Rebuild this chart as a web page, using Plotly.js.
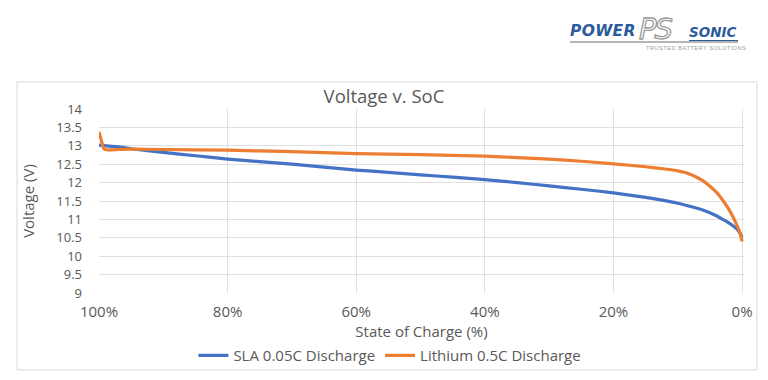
<!DOCTYPE html>
<html>
<head>
<meta charset="utf-8">
<script src="https://cdn.plot.ly/plotly-3.0.1.min.js"></script>
<style>
html,body{margin:0;padding:0;background:#fff;}
#wrap{position:relative;width:768px;height:380px;}
#chart{width:768px;height:380px;}
.logo{position:absolute;font-family:"DejaVu Sans",sans-serif;font-style:italic;white-space:nowrap;line-height:1;}
#lg1{left:570px;top:24px;font-size:15.5px;font-weight:bold;color:#2a5b9c;letter-spacing:0.3px;}
#lg2{left:639px;top:15px;font-size:29px;color:#ffffff;-webkit-text-stroke:1.3px #9a9a9a;letter-spacing:-2px;}
#lg3{left:689px;top:26px;font-size:13.5px;font-weight:bold;color:#2a5b9c;}
#lg4{left:646px;top:46px;font-size:5.5px;font-style:normal;font-family:"Liberation Sans",sans-serif;color:#9a9a9a;letter-spacing:0.6px;}
#lgbar{position:absolute;left:570px;top:41px;width:168px;height:2px;background:#b5b5b5;}
#lgbar2{position:absolute;left:689px;top:40px;width:49px;height:1px;background:#2a5b9c;}
</style>
</head>
<body>
<div id="wrap">
<div id="chart"></div>
<div id="lgbar"></div>
<div id="lgbar2"></div>
<div class="logo" id="lg1">POWER</div>
<div class="logo" id="lg2">PS</div>
<div class="logo" id="lg3">SONIC</div>
<div class="logo" id="lg4">TRUSTED BATTERY SOLUTIONS</div>
</div>
<script>
// State of charge (%) and voltages
var slaSoc = [100, 97, 95, 90, 85, 80, 75, 70, 65, 60, 55, 50, 45, 40, 35, 30, 25, 20, 15, 12, 10, 8, 6, 4, 3, 2, 1, 0.5, 0];
var slaVolt = [13.02, 12.97, 12.92, 12.82, 12.73, 12.64, 12.57, 12.50, 12.42, 12.34, 12.28, 12.21, 12.15, 12.08, 12.00, 11.91, 11.82, 11.72, 11.60, 11.51, 11.44, 11.35, 11.25, 11.10, 11.00, 10.90, 10.77, 10.67, 10.52];

var liSoc = [100, 99.6, 99.2, 98.5, 97, 95, 90, 80, 70, 60, 50, 40, 35, 30, 25, 20, 15, 12, 10, 9, 8, 7, 6, 5, 4, 3, 2, 1.5, 1, 0.5, 0.2, 0];
var liVolt = [13.38, 13.12, 12.91, 12.89, 12.90, 12.91, 12.90, 12.88, 12.84, 12.79, 12.76, 12.72, 12.68, 12.64, 12.58, 12.51, 12.43, 12.37, 12.32, 12.28, 12.22, 12.14, 12.04, 11.90, 11.74, 11.52, 11.26, 11.10, 10.92, 10.72, 10.56, 10.40];

var seriesNames = ["SLA 0.05C Discharge", "Lithium 0.5C Discharge"];
var xTicks = [100, 80, 60, 40, 20, 0];
var xTickText = ["100%", "80%", "60%", "40%", "20%", "0%"];

var grey = "#595959";
var font = "Open Sans, Liberation Sans, sans-serif";

var traces = [
  {x: slaSoc, y: slaVolt, name: seriesNames[0], type: "scatter", mode: "lines",
   line: {color: "#4472C4", width: 3.2, shape: "spline", smoothing: 0.5}},
  {x: liSoc, y: liVolt, name: seriesNames[1], type: "scatter", mode: "lines",
   line: {color: "#ED7D31", width: 3.2, shape: "spline", smoothing: 0.5}}
];

var layout = {
  width: 768, height: 380,
  margin: {l: 99, r: 24, t: 109, b: 87, autoexpand: false},
  paper_bgcolor: "rgba(0,0,0,0)",
  plot_bgcolor: "#ffffff",
  font: {family: font, color: grey, size: 15},
  showlegend: true,
  title: {text: "Voltage v. SoC", x: 0.5, xanchor: "center", y: 0.745, yanchor: "middle",
          font: {family: font, size: 18.5, color: grey}},
  xaxis: {
    range: [100, -0.3], tickvals: xTicks, ticktext: xTickText,
    showgrid: true, gridcolor: "#e0e0e0", gridwidth: 1,
    zeroline: false, showline: false, ticks: "",
    ticklabelstandoff: 8,
    tickfont: {size: 15, color: grey},
    title: {text: "State of Charge (%)", font: {size: 15, color: grey}, standoff: 2}
  },
  yaxis: {
    range: [9, 14], dtick: 0.5, tick0: 9,
    showgrid: true, gridcolor: "#e0e0e0", gridwidth: 1,
    zeroline: false, showline: false, ticks: "",
    ticklabelstandoff: 16,
    tickfont: {size: 13, color: grey},
    title: {text: "Voltage (V)", font: {size: 15, color: grey}, standoff: 18}
  },
  legend: {
    orientation: "h", x: 0.451, xanchor: "center", y: -0.34, yanchor: "middle",
    font: {size: 15, color: grey}, itemwidth: 30, traceorder: "normal"
  },
  shapes: [
    {type: "rect", xref: "paper", yref: "paper", layer: "below",
     x0: -0.127, x1: 1.02, y0: -0.418, y1: 1.147,
     line: {color: "#d9d9d9", width: 1}, fillcolor: "rgba(0,0,0,0)"}
  ]
};

Plotly.newPlot("chart", traces, layout, {displayModeBar: false, staticPlot: true});
</script>
</body>
</html>
